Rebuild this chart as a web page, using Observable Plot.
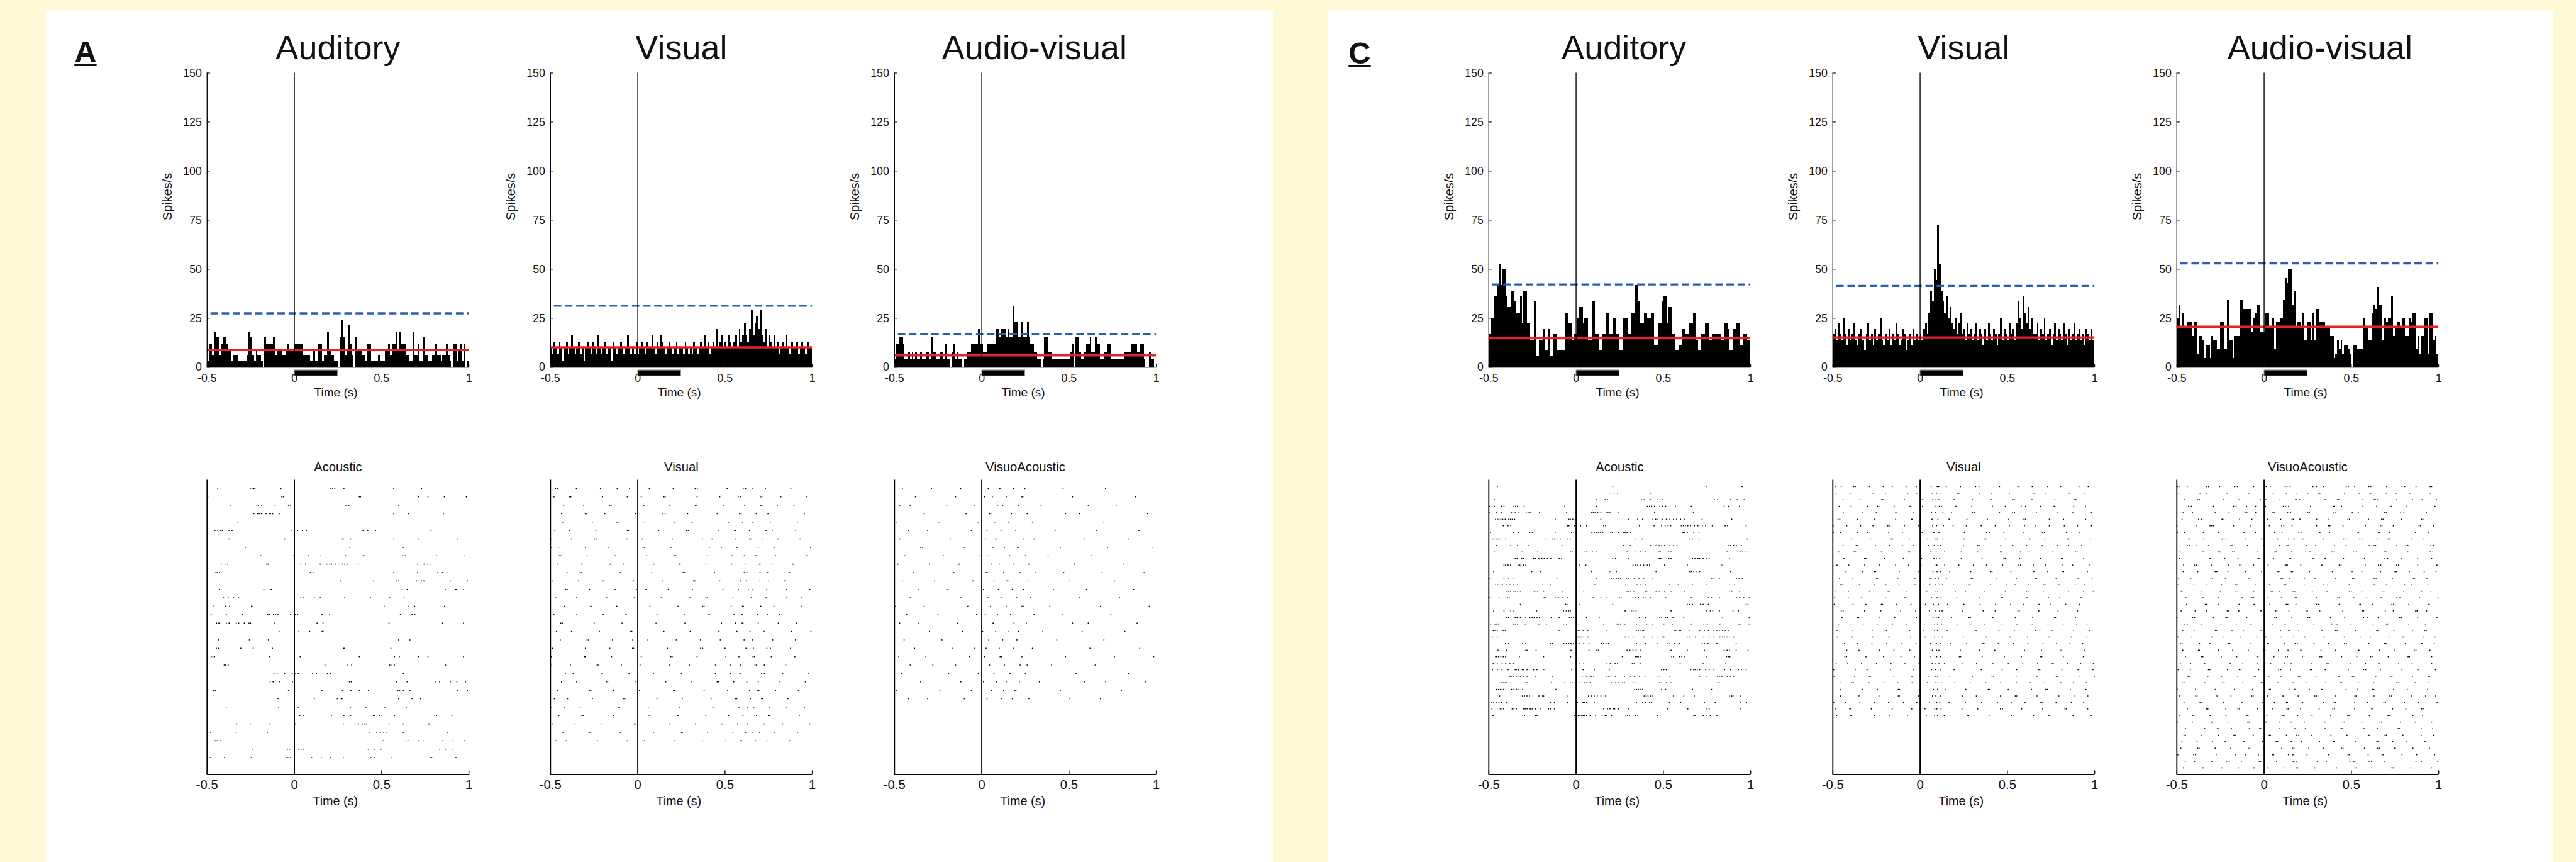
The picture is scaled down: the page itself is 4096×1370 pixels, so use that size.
<!DOCTYPE html>
<html><head><meta charset="utf-8">
<script src="https://cdn.jsdelivr.net/npm/d3@7"></script>
<script src="https://cdn.jsdelivr.net/npm/@observablehq/plot@0.6"></script>
<style>
html,body{margin:0;padding:0;background:#FFF9D6;}
#root{position:relative;width:4096px;height:1370px;overflow:hidden;background:#FFF9D6;font-family:"Liberation Sans",Arial,sans-serif;}
.panel{position:absolute;background:#fff;}
.letter{position:absolute;font-weight:bold;text-decoration:underline;color:#111;line-height:1;}
#root svg{position:absolute;overflow:visible;}
</style></head>
<body><div id="root"></div>
<script>
// ---------- data ----------
const timeTicks = [-0.5, 0, 0.5, 1];
const rateTicks = [0, 25, 50, 75, 100, 125, 150];
const timeDomain = [-0.5, 1];
const rateDomain = [0, 150];
const binWidth = 0.01;
const stimulus = {onset: 0, offset: 0.25};

const conditionTitles = ["Auditory", "Visual", "Audio-visual"];
const rasterTitles = ["Acoustic", "Visual", "VisuoAcoustic"];
const panelLetters = ["A", "C"];

// trials per condition
const trialsA = [33, 31, 26];
const trialsC = [36, 36, 44];
// spontaneous mean (red) and threshold (blue dashed), spikes/s
const baselineA = [8.8, 10.2, 6.1];
const thresholdA = [27.5, 31.4, 16.9];
const baselineC = [14.8, 15.3, 20.7];
const thresholdC = [42.2, 41.5, 53.0];

// PSTH spike counts per 10 ms bin, -0.5 .. 1 s
const countsA_aud = [1,4,4,2,6,5,5,2,4,5,5,4,3,3,1,2,2,2,1,1,1,1,1,2,6,5,2,1,3,2,2,1,0,5,4,4,4,4,5,2,3,3,3,2,2,3,4,3,3,3,
4,4,4,4,4,2,2,2,2,1,1,3,1,1,4,4,1,2,2,6,3,2,2,1,1,0,5,8,5,2,3,7,4,2,0,5,3,3,3,2,2,1,4,4,1,1,1,1,2,1,
1,1,3,3,4,2,4,4,6,3,6,4,4,4,2,2,1,1,6,2,2,4,1,1,5,2,2,1,1,2,2,4,2,2,1,2,2,4,2,1,0,4,4,1,3,4,1,4,0,1];
const countsA_vis = [3,2,4,3,2,4,3,1,3,4,2,3,5,3,2,3,4,2,3,1,3,4,3,2,4,3,2,5,3,2,3,4,2,3,3,1,4,3,2,3,4,3,2,3,5,3,2,3,2,4,
2,3,4,3,2,4,3,3,5,3,2,4,3,5,4,3,2,3,4,3,2,3,4,2,3,3,2,4,3,2,
3,2,4,3,2,3,4,3,5,3,4,2,3,4,3,6,3,4,5,3,4,3,5,4,3,
4,5,3,6,4,5,7,5,4,6,9,5,7,8,6,9,5,4,6,3,5,
4,3,5,3,4,2,3,4,3,5,3,2,4,3,3,4,2,3,4,3,2,4,3,3];
const countsA_av = [1,3,3,4,4,3,1,1,2,1,2,1,2,1,1,2,1,1,2,2,1,4,2,2,1,1,2,2,1,3,1,1,0,2,3,1,2,1,1,0,1,1,2,2,3,3,3,3,5,3,
3,2,2,3,3,3,3,3,5,5,4,5,5,5,4,5,4,4,8,6,6,4,4,6,4,4,6,4,3,3,2,2,1,1,0,1,4,4,2,2,1,1,1,1,1,1,1,1,1,1,
1,2,3,0,4,4,2,1,1,2,3,3,4,2,2,4,3,3,1,1,2,2,3,3,1,1,1,1,1,1,1,1,2,2,2,2,3,3,3,2,2,3,3,1,0,0,2,1,1,0];
const countsC_aud = [6,9,9,13,13,15,19,15,18,18,13,11,11,14,14,12,10,10,13,8,14,14,8,8,5,5,12,2,2,5,5,7,3,3,7,2,2,6,6,3,3,3,3,3,10,10,8,8,5,6,
6,9,11,11,8,9,9,5,5,12,12,6,6,3,3,6,6,10,10,6,6,9,9,6,6,3,3,9,9,9,6,6,10,10,15,15,12,8,8,10,10,9,9,10,10,4,4,8,8,12,
13,13,8,11,11,6,6,3,3,4,4,7,7,6,6,8,8,10,10,5,3,3,6,6,8,8,5,5,6,6,6,6,6,5,5,8,8,7,3,3,7,7,8,8,4,4,6,6,5,5];
const countsC_vis = [6,7,5,8,6,5,9,6,4,7,5,6,8,5,4,6,7,5,3,6,8,5,6,4,7,5,6,9,5,4,6,5,7,4,6,5,8,6,4,5,7,6,3,5,6,4,7,5,6,5,
6,5,7,8,6,10,14,12,18,16,26,19,14,12,10,13,9,11,8,7,9,6,8,10,6,7,5,8,6,7,
5,6,8,5,7,6,4,7,5,8,6,5,7,6,4,6,9,5,7,6,5,8,6,7,5,
8,12,9,7,13,10,8,11,7,9,6,
6,8,5,7,6,9,5,6,7,4,6,8,5,7,6,5,8,6,4,7,5,6,8,5,6,7,5,6,4,7,6,5,7,5];
const countsC_av = [11,14,9,12,9,9,10,10,10,7,10,10,3,7,7,6,2,5,5,2,7,6,6,4,4,10,10,4,4,15,6,6,2,7,7,7,15,15,13,13,13,13,13,8,11,12,14,14,8,8,
8,12,12,9,9,11,4,10,10,11,11,15,20,19,22,22,14,17,9,10,10,9,12,6,6,10,10,6,12,6,13,13,10,10,10,9,9,9,7,7,2,3,6,4,6,3,5,5,4,3,
0,5,5,4,4,4,4,11,9,9,6,6,12,14,13,18,14,14,6,11,10,11,11,16,7,9,10,10,9,11,11,7,7,11,10,12,12,4,7,3,7,7,11,11,3,12,12,6,7,3];

// raster spike times (ms) per trial
const rasterA_aud = [
[-439,-253,-243,-232,-226,-77,209,219,232,284,569,728],
[-496,-72,-63,372,379,711,765,859,985],
[-368,-215,-205,-188,-110,-34,-22,295,311,318,597],
[-232,-212,-202,-189,-162,-144,-137,-124,-87,569,655,853],
[-325],
[-455,-439,-423,-413,-374,-361,-357,-19,19,46,69,393,420,465,783],
[-374,-56,275,280,322,569,711,935],
[-281,317,624],
[-192,-4,80,152,294,394,404,620,635,814,977],
[-419,-398,-383,-159,-151,37,64,148,186,202,213,236,277,287,304,366,705,743,764,777],
[-450,-443,-428,91,107,569,705,821,848],
[266,454,586,597,700,728,742,893,991],
[-428,-175,-137,-132,617,646,864,923,928,970],
[-406,-379,-348,-319,37,50,114,148,288,436,546,628],
[-466,-395,-371,-246,-243,514,651,689,860],
[-477,-390,-298,-152,-144,-120,-107,-94,-22,5,19,158,202,607,674,690],
[-446,-436,-428,-390,-374,-333,-319,-287,-260,-251,-116,130,164,542,849,969],
[-88,26,88,159,164],
[-435,-258,-149,597,662],
[-447,-434,-307,-236,-126,283,288,553],
[-477,-467,-457,-143,33,372,573,601,711,765,969],
[-402,-395,-379,175,307,328,546,553,573,866],
[-117,-99,-56,-12,3,22,105,126,189,208,624],
[-139,-122,-83,-11,315,326,586,646,806,832,893,931,980],
[-463,-453,-34,158,275,322,328,372,424,593,603,624,662,935,991],
[-94,114,246,268,273,597,674,723],
[-391,-90,22,322,410,519,641],
[31,54,212,284,322,453,461,488,573,815,902],
[-330,-253,-143,4,280,367,389,401,414,542,624,771,776],
[-496,-480,-334,-155,428,472,493,512,530,624,877],
[-453,-443,-423,508,640,656,711,738,849,909,974],
[-239,-39,-27,24,38,53,423,458,496,832,866,909],
[-482,-401,-247,-49,-37,-22,99,154,208,280,438,459,559,781,787,923,928]
];
const rasterA_vis = [
[-471,-459,-352,-214,-118,-47,66,203,329,341,512,604,618,655,731,877],
[-480,-390,-383,-201,-60,20,150,157,340,470,575,590,702,711,820,965],
[-425,-310,-160,-152,35,180,330,335,490,612,705,712,800,895],
[-437,-301,-296,-189,-12,140,157,286,455,583,592,679,746,954],
[-430,-260,-120,-112,40,210,305,312,520,600,655,661,760,915],
[-475,-392,-240,-60,-53,120,280,290,465,555,560,640,735,770,905],
[-493,-380,-247,-238,-61,25,199,371,426,561,640,648,712,803,930],
[-495,-455,-300,-170,30,37,190,410,480,565,570,690,780,786,990],
[-450,-440,-290,-130,50,210,218,400,540,610,676,683,790,968],
[-458,-322,-161,-155,-83,92,238,243,390,538,615,697,701,768,889],
[-405,-330,-322,-100,80,260,268,440,610,625,700,744,870],
[-486,-340,-200,-193,-25,140,320,327,470,590,622,700,750,842],
[-412,-404,-276,-130,-8,47,175,313,488,576,633,660,739,850,986],
[-470,-350,-180,-172,-20,135,300,390,398,545,650,730,736,850,940],
[-420,-270,-263,-120,70,230,372,380,535,600,605,705,780,940],
[-481,-349,-198,-73,-66,110,266,402,410,552,598,687,742,812],
[-441,-432,-250,-90,100,108,270,480,560,598,603,690,805,910],
[-466,-380,-220,-40,-34,150,300,460,466,568,643,720,728,880,992],
[-444,-290,-282,-145,-29,58,221,359,473,604,611,658,773,903],
[-488,-300,-160,-30,-24,170,360,372,500,620,662,740,760,875],
[-496,-305,-300,-150,20,190,197,340,505,580,660,668,765,900],
[-499,-386,-233,-227,-94,13,182,296,445,530,588,672,680,725,848],
[-415,-370,-210,-203,-50,90,250,445,530,585,591,710,725,830,980],
[-437,-350,-180,-172,-10,160,310,455,462,550,625,690,815,960],
[-460,-275,-268,-140,10,205,212,380,515,640,688,694,790,920],
[-478,-402,-260,-80,-74,110,255,420,560,567,645,710,714,860],
[-498,-420,-330,-110,-104,60,240,430,437,580,630,665,755,850,955],
[-452,-320,-313,-140,60,70,230,390,520,603,680,748,755,925],
[-489,-365,-210,-20,-13,180,330,480,488,572,630,725,830,985],
[-428,-280,-273,-100,90,250,256,400,545,618,660,698,785,915],
[-468,-410,-230,-60,30,38,210,370,505,590,595,675,740,870]
];
const rasterA_av = [
[-455,-288,-121,37,102,108,183,247,466,709],
[-380,-150,15,60,140,230,236,520,880],
[-470,-410,-200,-40,90,120,210,340,610,770],
[-330,-90,45,52,170,260,480,560,950],
[-490,-250,-242,-20,75,150,155,290,700],
[-420,-310,-60,30,110,195,420,655,660,900],
[-470,-180,20,80,86,240,300,590,840],
[-350,-340,-100,65,130,205,212,450,720,975],
[-440,-220,-10,40,160,250,380,630],
[-480,-300,-130,-125,55,100,180,270,530,810],
[-390,-160,25,32,125,220,310,470,690,930],
[-455,-270,-50,70,145,150,265,505,760],
[-360,-200,-193,10,95,175,240,410,600,870],
[-410,-120,35,110,116,200,280,560,790],
[-495,-330,-80,50,140,230,237,390,680,960],
[-430,-250,-30,20,90,165,300,460,740],
[-470,-360,-140,60,66,185,255,520,610,890],
[-300,-110,5,80,150,210,350,575,820],
[-445,-230,-223,40,120,200,206,430,700],
[-385,-170,-40,25,100,180,290,620,905],
[-475,-320,-70,15,105,112,230,480,760,985],
[-410,-280,-150,45,130,220,260,400,650],
[-460,-190,-20,70,160,166,250,540,840],
[-350,-120,10,85,140,215,330,590,710,940],
[-490,-240,-60,55,125,190,196,450,800],
[-420,-310,-100,30,115,175,270,500,680]
];
const rasterC_aud = [
[-451,210,745,951],
[199,218,237,426],
[-468,117,166,180,374,390,426,469,494,792,810,885,923,963],
[-497,-468,-428,-413,-356,-346,-336,-297,-65,117,409,421,431,449,480,494,513,569,660,848,874,936],
[-497,-456,-428,-370,-349,-327,-286,-270,-263,-210,-55,87,98,109,125,142,172,183,194,241,449,672],
[-461,-451,-442,-431,-420,-406,-386,-376,-366,-352,-120,-41,-33,-19,-5,3,142,299,353,381,435,456,469,497,517,537,558,576,599,623,722,892],
[-417,-390,-374,-49,-41,-8,26,60,158,169,363,447,490,510,527,542,603,615,626,640,656,678,698,723,742,780,854,868,974],
[-490,-359,-329,-265,-251,-120,-26,90,104,115,128,139,153,199,207,244,271,281,292,312,612,622,637,674,704],
[-479,-469,-458,-445,-431,-404,-172,-136,-124,-110,-90,-49,-33,337,378,651,667,704,981],
[-456,-374,-336,-274,-80,271,310,428,453,462,476,490,507,537,558,578,872,885,903,919,947],
[-468,-315,-306,-220,-31,-22,46,60,94,115,292,337,368,398,476,483,531,544,865,926,940,953,967,985],
[-349,-338,-311,-301,-243,-233,-213,-196,-183,-165,-145,-97,-83,210,226,299,476,486,531,544,667,681,698,708,728,749,762,878],
[-413,-404,-390,-376,-333,-322,-301,-288,22,56,326,340,353,367,387,408,421,507,637,831,840],
[-472,-254,-203,87,190,199,231,458,651,660,674,687,708,885],
[-497,-413,-386,-356,-110,117,190,203,217,231,244,254,289,303,333,360,387,435,777,790,821,919,933,951],
[-461,-451,-442,-431,-421,-397,-379,-360,-336,-191,-147,105,112,285,349,367,397,535,585,667,745,878,908],
[-397,-387,-376,-356,-349,-336,-319,-240,-229,-220,-186,-76,44,292,299,312,330,397,405,458,476,507,544,622,878,892,936],
[-497,-441,-393,-383,-183,-175,-120,-110,-101,-80,-49,98,142,172,248,258,326,340,357,385,401,426,513,660,758,776,821,919,936,960,992],
[-319,-60,-52,22,210,637,649,667,712,728,758,974,985],
[-472,-413,-374,-356,-226,-72,-56,-42,-33,281,316,326,344,544,749,769,783,821,899,930],
[-397,-387,-349,-338,-319,-288,-265,-251,-240,-224,-210,-142,-97,-38,-25,-15,60,132,363,398,480,490,513,524,555,617,840,992],
[-490,-465,-456,-445,-359,-349,-336,-291,-213,-169,-72,-55,5,158,235,244,254,278,285,346,405,439,503,551,660,732,753,824,933,944,992],
[-475,-465,-451,-424,-417,-406,-97,3,12,22,40,67,172,346,357,371,381,387,562,572,592,599,647,708,735,758,790,807,821,838,854,872],
[-482,-472,-451,3,12,22,30,44,67,281,299,326,390,439,469,497,503,637,649,683,732,762,790,824,838,851,865,878,903],
[-404,-387,-306,-288,-147,-134,-70,-56,-42,-29,-15,3,22,44,74,145,158,172,186,346,398,469,521,537,565,592,722,735,756,803,810,917],
[-447,-397,-288,-281,-229,-29,74,115,128,292,308,326,344,367,544,637,735,848,865,878,917,985],
[-461,-456,-445,-431,-417,-404,-325,-186,-31,265,340,349,357,367,548,558,592,606,619,745,862,872,881],
[-475,-451,-424,-404,-379,-359,22,44,172,196,224,237,322,333,371,596,728,858],
[-479,-451,-424,-390,-349,-342,-329,-308,-301,-281,-243,-224,-188,-179,-25,40,104,190,490,503,517,657,674,681,694,708,742,762,790,851,885,930,947,974],
[-379,-370,-360,-342,-333,-319,-301,-281,-233,-134,35,60,80,87,101,172,186,199,224,278,312,333,363,394,469,480,537,708,745,810,821,835,865,885,903],
[-441,-428,-417,-406,-397,-374,-288,-281,-142,-65,-33,-22,16,49,60,80,203,226,244,265,278,326,344,476,490,517,544,810,821],
[-456,-445,-434,-424,-415,-370,-356,-342,-333,-306,-115,336,346,357,367,381,490,513,667,776],
[-438,-308,-295,-281,-267,-213,-192,-186,-52,71,87,104,121,142,169,390,401,412,426,435,558,617,677,878,892,899,940],
[-483,-472,-458,-442,-428,-397,-147,-124,-49,-1,8,40,49,60,104,346,381,398,421,431,535,599,735,797,940,977],
[-482,-434,-424,-415,-366,-356,-342,-301,-292,-281,-267,-261,-251,-233,-206,-158,-147,-124,158,180,194,213,221,240,244,299,524,640,745,762,940],
[-479,-475,-295,-233,-224,-8,3,12,22,30,40,49,60,80,112,149,166,176,203,285,295,306,340,353,466,674,681,728,745,769,807]
];
const rasterC_vis = [
[-487,-452,-380,-371,-290,-211,-160,-75,-22,63,98,107,150,231,318,337,455,560,567,642,731,805,910,963],
[-481,-402,-395,-270,-198,-71,-20,70,95,120,215,222,341,410,512,650,658,720,855,940],
[-441,-345,-220,-213,-90,12,72,91,107,195,300,408,532,540,641,772,885,893],
[-463,-395,-302,-244,-236,-149,-58,14,85,110,122,205,296,414,488,579,604,690,768,772,880,947],
[-440,-332,-251,-140,-133,-40,66,88,131,180,300,312,455,530,541,666,790,875,981],
[-470,-460,-360,-260,-140,-50,-44,68,102,166,268,385,508,595,603,740,822,948],
[-498,-420,-341,-270,-185,-177,-90,-11,72,94,133,189,265,350,430,511,598,663,740,826,902,981],
[-497,-455,-360,-301,-180,-102,12,79,103,109,254,380,396,480,590,700,712,838,915],
[-499,-393,-285,-166,-158,-62,44,86,98,130,252,371,378,490,629,715,846,852,975],
[-441,-366,-357,-256,-174,-102,-37,48,81,102,117,248,330,339,462,531,610,699,787,851,925],
[-466,-378,-370,-222,-160,-66,-59,60,92,140,236,330,460,466,575,625,760,890,899],
[-436,-318,-310,-203,-96,8,80,93,112,236,355,480,487,570,690,810,817,937],
[-476,-409,-317,-231,-140,-66,5,92,96,141,222,305,380,473,566,575,648,717,813,874,968],
[-430,-330,-262,-255,-120,-12,74,97,118,170,290,405,412,520,652,731,818,822,958],
[-462,-385,-250,-244,-128,-30,58,89,105,151,292,300,440,552,660,667,779,905,985],
[-455,-446,-348,-262,-196,-121,-29,57,88,112,128,190,282,403,497,544,623,709,716,795,889,941],
[-488,-410,-290,-183,-177,-80,38,85,101,202,260,371,488,610,619,705,850,935,992],
[-490,-412,-335,-199,-88,-80,66,97,120,210,342,465,472,612,735,800,918,925],
[-492,-384,-310,-222,-215,-134,-52,31,76,105,157,251,344,432,519,594,681,750,834,913],
[-452,-441,-318,-225,-111,-25,54,90,111,126,245,361,430,560,568,680,790,902],
[-448,-360,-352,-230,-145,-21,74,92,106,180,280,288,417,545,645,770,776,890],
[-468,-401,-326,-245,-158,-81,-74,24,83,99,124,211,288,371,469,555,636,645,733,819,897,956],
[-476,-385,-275,-200,-192,-60,22,82,99,155,315,321,452,540,660,751,760,880,970],
[-474,-390,-271,-180,-172,-55,30,82,103,128,247,378,510,517,615,738,865,955],
[-433,-359,-276,-191,-109,-23,60,93,115,176,267,360,366,448,536,617,704,782,858,931],
[-420,-350,-233,-150,-61,-53,70,94,108,230,340,426,433,598,695,802,811,940],
[-431,-421,-310,-210,-110,-33,62,95,116,225,232,355,482,580,688,697,820,935],
[-481,-415,-336,-250,-167,-87,-12,69,90,108,139,240,323,417,505,588,673,757,763,844,920,992],
[-495,-372,-305,-298,-170,-40,65,88,115,190,197,350,470,553,680,686,812,905,990],
[-493,-376,-291,-284,-150,-47,52,87,99,170,300,412,420,550,669,780,788,916,998],
[-459,-390,-382,-293,-206,-128,-46,41,86,101,121,199,287,376,461,552,631,714,806,878,952],
[-458,-330,-245,-125,-118,-5,76,100,148,262,390,398,505,638,720,728,860,950],
[-457,-350,-236,-125,-119,-10,71,90,118,244,322,460,545,553,670,795,887,961],
[-495,-427,-345,-260,-181,-96,-19,53,95,113,166,259,352,443,526,601,692,699,779,866,937],
[-483,-403,-397,-280,-160,-48,28,84,96,120,240,330,460,472,582,702,830,837,960],
[-478,-400,-392,-262,-177,-73,35,83,100,138,270,278,395,525,650,735,742,876,980]
];
const rasterC_av = [
[-497,-488,-441,-330,-318,-255,-170,-161,-152,-60,12,35,120,131,149,280,300,341,470,482,519,600,611,702,790,805,870,951,960],
[-489,-372,-365,-330,-212,-87,45,53,127,188,250,312,320,460,545,606,611,700,752,761,835,952],
[-455,-380,-371,-231,-149,-140,-22,10,91,180,186,204,350,420,428,566,631,637,650,760,850,905,988],
[-433,-417,-290,-175,-161,-100,-49,8,110,122,140,266,398,404,444,561,645,722,730,818,979],
[-470,-462,-410,-280,-201,-110,-99,-48,50,58,135,152,250,260,400,411,505,540,690,700,782,801,930],
[-470,-375,-360,-241,-236,-140,-70,21,95,160,167,205,301,372,480,489,598,673,681,788,902,910],
[-500,-390,-310,-302,-291,-175,-80,30,101,113,160,301,370,377,452,580,666,675,740,888,896,972],
[-497,-455,-348,-260,-120,-113,-50,60,103,199,211,320,375,532,540,655,662,720,867,940],
[-433,-425,-346,-240,-219,-108,-15,-6,77,140,170,173,222,341,455,470,548,560,648,711,720,843,910],
[-441,-427,-385,-318,-190,-184,-95,-2,88,131,137,244,295,403,470,602,630,639,760,812,824,955,970],
[-482,-350,-262,-254,-181,-170,-40,62,69,158,239,263,390,402,511,528,619,691,699,823,951,966],
[-485,-314,-308,-225,-150,-35,-29,54,148,152,281,346,352,455,575,692,708,785,880,960],
[-461,-399,-388,-301,-205,-140,-132,-60,23,121,126,133,210,331,430,441,579,655,668,760,770,880,990],
[-463,-380,-280,-271,-207,-106,-14,79,85,156,163,260,391,500,508,560,667,750,757,832,917,985],
[-490,-420,-305,-296,-222,-90,-81,5,97,106,145,230,292,410,507,515,630,642,735,855,862,933],
[-499,-490,-402,-333,-243,-163,-156,-51,30,117,125,229,342,365,487,629,636,701,805,845,938],
[-475,-470,-362,-251,-162,-150,-59,40,49,88,166,176,276,360,488,500,560,677,686,800,902,955],
[-448,-352,-345,-260,-126,-69,-60,17,99,178,184,300,422,430,513,588,671,760,778,890,996],
[-444,-337,-330,-263,-143,-62,-55,33,127,136,182,300,311,430,548,552,620,732,741,829,940,946],
[-475,-395,-330,-211,-202,-145,-18,65,73,142,240,248,319,451,562,570,694,740,868,876,931],
[-499,-410,-398,-290,-219,-213,-100,-4,61,70,159,251,261,380,462,570,590,654,777,786,880,990],
[-457,-440,-360,-248,-160,-80,-74,50,114,121,190,285,388,418,497,625,700,708,829,924],
[-466,-401,-280,-272,-184,-120,-22,-13,94,140,148,199,331,409,418,523,645,651,744,850,921,929],
[-493,-414,-301,-296,-230,-137,-42,10,92,101,170,233,337,344,459,550,609,716,795,801,915,980],
[-480,-470,-370,-311,-203,-196,-75,18,25,115,178,190,286,370,460,471,600,690,698,810,904,975],
[-466,-376,-371,-262,-180,-91,-3,5,82,137,209,217,326,410,541,548,660,745,860,870,950],
[-451,-360,-351,-246,-157,-41,-35,56,122,133,219,320,330,444,531,610,619,711,825,833,960],
[-480,-421,-340,-199,-193,-122,-40,38,118,150,158,270,360,367,493,581,656,663,771,848,960],
[-493,-423,-319,-311,-210,-142,-132,-31,83,95,151,265,272,350,482,570,582,666,790,880,887,981],
[-436,-428,-322,-244,-151,-57,-51,27,96,196,205,297,429,505,514,640,726,733,850,941,948],
[-468,-458,-340,-238,-229,-122,-18,-10,79,160,168,240,353,436,444,540,628,760,769,865,945],
[-498,-393,-286,-278,-170,-66,30,36,143,176,259,330,336,470,537,620,628,742,820,937],
[-486,-392,-384,-270,-190,-71,-63,20,104,110,195,290,300,410,520,527,630,720,730,846,925,983],
[-459,-367,-355,-234,-130,-122,-11,59,128,134,221,340,401,408,519,592,686,695,804,883,991],
[-440,-330,-322,-219,-150,-141,-37,47,131,138,209,315,394,403,519,616,624,736,812,903,911],
[-487,-410,-402,-309,-218,-98,-92,16,108,114,192,275,382,479,486,603,710,717,852,908],
[-497,-411,-303,-295,-201,-95,-86,11,90,151,160,230,348,452,461,560,664,673,780,866,960],
[-450,-340,-268,-259,-187,-85,-26,-19,86,172,180,236,350,440,447,573,649,768,776,900,966],
[-459,-451,-356,-260,-173,-166,-63,29,36,128,187,199,270,383,473,480,601,693,700,795,899,970],
[-471,-384,-296,-228,-221,-115,-9,69,77,155,213,318,397,404,522,646,652,737,818,920,927],
[-477,-380,-372,-280,-191,-91,-82,-3,101,162,171,256,339,443,452,575,650,660,748,851,858,947],
[-494,-403,-394,-275,-166,-108,-33,47,55,139,165,246,370,481,488,596,675,682,790,874,977],
[-452,-398,-302,-296,-215,-200,-130,-28,-20,71,166,172,184,305,357,490,513,520,601,615,688,870,901,994],
[-462,-353,-347,-243,-148,-61,-54,22,113,186,193,290,415,520,528,617,732,739,841,958]
];

// ---------- layout (reference pixels, scaled to window) ----------
const s = 4096 / 4850;
const FONT = "'Liberation Sans', Arial, Helvetica, sans-serif";
const RED = "#ea2128";
const BLUE = "#2d5db3";
const root = document.getElementById("root");

const panelBoxes = [{x0: 87, x1: 2396}, {x0: 2501, x1: 4807}];
const letterPos = [{x: 140, base: 118}, {x: 2539, base: 120}];
const frameLefts = [[389, 1036, 1684], [2803, 3450, 4098]];
const titleShift = [[0, 0, 17], [8, 0, 23]];
const PSTH_TOP = 137, RASTER_TOP = 903, FW = 493, FH = 554;
const M = {l: 130, r: 30, t: 100, b: 90};

panelBoxes.forEach((b, i) => {
  const d = document.createElement("div");
  d.className = "panel";
  Object.assign(d.style, {left: b.x0 * s + "px", top: 19 * s + "px", width: (b.x1 - b.x0) * s + "px", height: (1622 - 19) * s + "px"});
  root.appendChild(d);
  const L = document.createElement("div");
  L.className = "letter";
  const fs = 58 * s;
  L.textContent = panelLetters[i];
  Object.assign(L.style, {left: letterPos[i].x * s + "px", top: (letterPos[i].base * s - 0.8465 * fs) + "px", fontSize: fs + "px", textDecorationThickness: 3.5 * s + "px", textUnderlineOffset: 3 * s + "px"});
  root.appendChild(L);
});

function place(svg, left, top) {
  svg.style.left = (left - M.l) * s + "px";
  svg.style.top = (top - M.t) * s + "px";
  root.appendChild(svg);
}

function baseOpts() {
  return {
    width: (M.l + FW + M.r) * s, height: (M.t + FH + M.b) * s,
    marginLeft: M.l * s, marginRight: M.r * s, marginTop: M.t * s, marginBottom: M.b * s,
    style: {background: "transparent", overflow: "visible", fontFamily: FONT, color: "#111"}
  };
}

function psth(counts, trials, base, thr, title, dxTitle, left) {
  const rate = 1 / (trials * binWidth);
  const bins = counts.map((c, i) => ({t0: timeDomain[0] + i * binWidth, t1: timeDomain[0] + (i + 1) * binWidth, r: c * rate}));
  const svg = Plot.plot({
    ...baseOpts(),
    x: {domain: timeDomain, axis: null},
    y: {domain: rateDomain, axis: null},
    marks: [
      Plot.rect(bins, {x1: "t0", x2: "t1", y1: 0, y2: "r", fill: "#000", shapeRendering: "crispEdges"}),
      Plot.ruleY([base], {stroke: RED, strokeWidth: 4 * s}),
      Plot.ruleY([thr], {stroke: BLUE, strokeWidth: 4 * s, strokeDasharray: `${14 * s} ${7 * s}`, strokeDashoffset: 14 * s}),
      Plot.ruleX([0], {y1: rateDomain[0], y2: rateDomain[1], stroke: "#000", strokeWidth: 1.6 * s}),
      Plot.ruleY([stimulus], {x1: "onset", x2: "offset", y: 0, dy: 10.5 * s, stroke: "#8a8a8a", strokeWidth: 12 * s}),
      Plot.ruleY([stimulus], {x1: "onset", x2: "offset", y: 0, dy: 10.5 * s, stroke: "#000", strokeWidth: 9.5 * s, inset: 1.2 * s}),
      Plot.ruleX([timeDomain[0]], {y1: rateDomain[0], y2: rateDomain[1], stroke: "#000", strokeWidth: 1.6 * s}),
      Plot.ruleY([rateDomain[0]], {x1: timeDomain[0], x2: timeDomain[1], stroke: "#555", strokeWidth: 1.6 * s}),
      Plot.axisY({ticks: rateTicks, tickSize: -6 * s, tickPadding: 16 * s, fontSize: 21 * s, tickFormat: d => String(d), label: null, strokeWidth: 1.4 * s}),
      Plot.axisX({ticks: timeTicks, tickSize: -6 * s, tickPadding: 18 * s, fontSize: 21 * s, tickFormat: d => String(d), label: null, strokeWidth: 1.4 * s}),
      Plot.text(["Spikes/s"], {text: d => d, frameAnchor: "left", rotate: -90, dx: -67 * s, lineAnchor: "bottom", fontSize: 23.5 * s, fill: "#111"}),
      Plot.text(["Time (s)"], {text: d => d, frameAnchor: "bottom", dx: -4 * s, dy: 55 * s, lineAnchor: "bottom", fontSize: 22.6 * s, fill: "#111"}),
      Plot.text([title], {text: d => d, frameAnchor: "top", dx: dxTitle * s, dy: -26 * s, lineAnchor: "bottom", fontSize: 64 * s, fill: "#111"})
    ]
  });
  place(svg, left, PSTH_TOP);
}

function raster(rows, nRows, title, left) {
  const spikes = rows.flatMap((row, i) => row.map(ms => ({t: ms / 1000, trial: i + 1})));
  const svg = Plot.plot({
    ...baseOpts(),
    x: {domain: timeDomain, axis: null},
    y: {domain: [0, nRows], reverse: true, axis: null},
    marks: [
      Plot.dot(spikes, {x: "t", y: "trial", symbol: "square", r: 1.05 * s, fill: "#000", stroke: "none"}),
      Plot.ruleX([timeDomain[0], 0], {y1: 0, y2: nRows, stroke: "#000", strokeWidth: 2.2 * s}),
      Plot.ruleY([nRows], {x1: timeDomain[0], x2: timeDomain[1], stroke: "#000", strokeWidth: 2.2 * s}),
      Plot.axisX({ticks: timeTicks, tickSize: -7 * s, tickPadding: 18 * s, fontSize: 24 * s, tickFormat: d => String(d), label: null, strokeWidth: 1.8 * s}),
      Plot.text([title], {text: d => d, frameAnchor: "top", dy: -17 * s, lineAnchor: "bottom", fontSize: 24 * s, fill: "#111"}),
      Plot.text(["Time (s)"], {text: d => d, frameAnchor: "bottom", dx: -5 * s, dy: 58 * s, lineAnchor: "bottom", fontSize: 23.5 * s, fill: "#111"})
    ]
  });
  place(svg, left, RASTER_TOP);
}

const psthA = [countsA_aud, countsA_vis, countsA_av];
const psthC = [countsC_aud, countsC_vis, countsC_av];
const rastA = [rasterA_aud, rasterA_vis, rasterA_av];
const rastC = [rasterC_aud, rasterC_vis, rasterC_av];
const rasterRows = [35, 45];

[0, 1, 2].forEach(k => {
  psth(psthA[k], trialsA[k], baselineA[k], thresholdA[k], conditionTitles[k], titleShift[0][k], frameLefts[0][k]);
  psth(psthC[k], trialsC[k], baselineC[k], thresholdC[k], conditionTitles[k], titleShift[1][k], frameLefts[1][k]);
  raster(rastA[k], rasterRows[0], rasterTitles[k], frameLefts[0][k]);
  raster(rastC[k], rasterRows[1], rasterTitles[k], frameLefts[1][k]);
});
</script>
</body></html>
